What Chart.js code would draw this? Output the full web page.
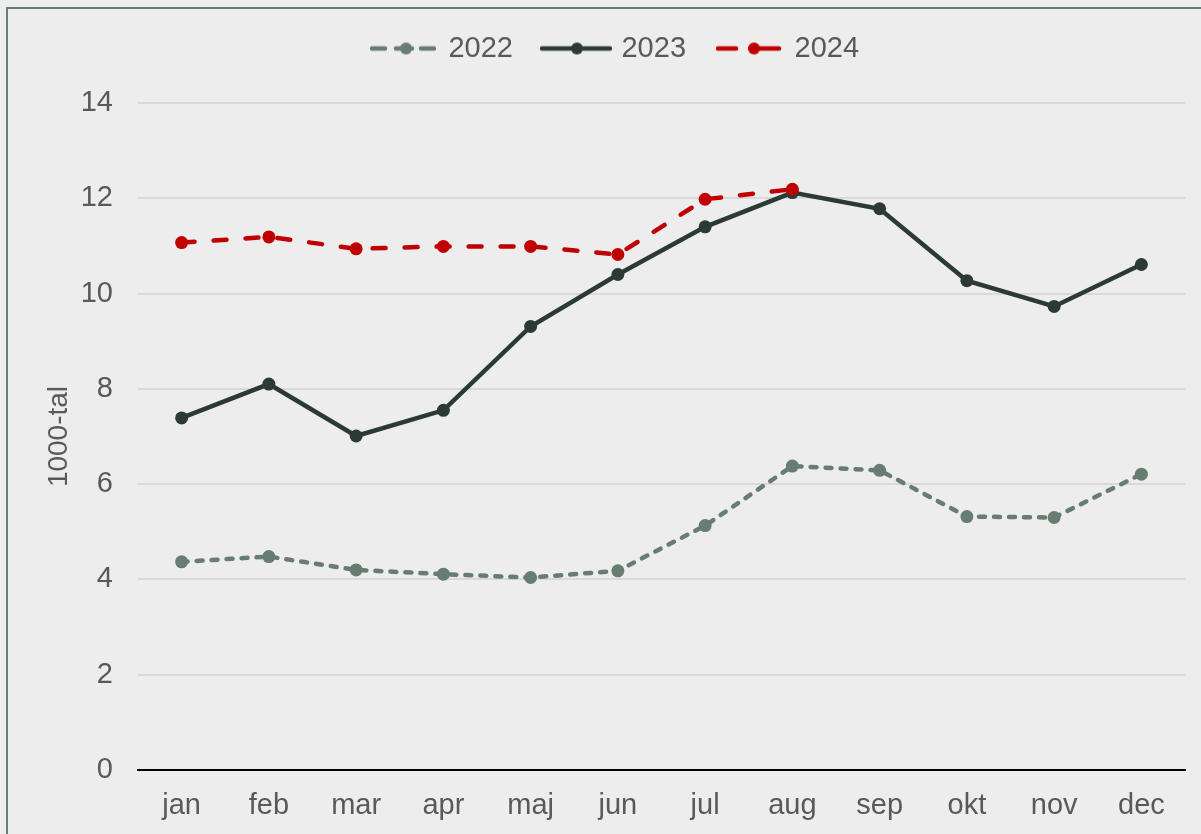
<!DOCTYPE html>
<html>
<head>
<meta charset="utf-8">
<script src="https://cdn.jsdelivr.net/npm/chart.js@4/dist/chart.umd.min.js"></script>
<style>
  html, body { margin: 0; padding: 0; background: #ededed; overflow: hidden; width: 1201px; height: 834px; }
  #frame { position: absolute; left: 6px; top: 7px; width: 1240px; height: 900px; border: 2px solid #687d72; box-sizing: border-box; }
  #wrap { position: absolute; left: 0; top: 0; width: 1231px; height: 834px; }
</style>
</head>
<body>
<div id="frame"></div>
<div id="wrap"><canvas id="chart"></canvas></div>
<script>
// ---- data (unit: 1000-tal) ----
const months = ['jan', 'feb', 'mar', 'apr', 'maj', 'jun', 'jul', 'aug', 'sep', 'okt', 'nov', 'dec'];
const values2022 = [4.37, 4.48, 4.20, 4.11, 4.04, 4.18, 5.13, 6.38, 6.29, 5.32, 5.30, 6.21];
const values2023 = [7.39, 8.10, 7.01, 7.55, 9.31, 10.40, 11.40, 12.12, 11.78, 10.27, 9.73, 10.61];
const values2024 = [11.07, 11.19, 10.94, 10.99, 10.99, 10.82, 11.98, 12.19];
const yTicks = [0, 2, 4, 6, 8, 10, 12, 14];

const FONT = "'Liberation Sans', Arial, sans-serif";
const TEXT = '#595959';
const C2022 = '#687d72';
const C2023 = '#2b3b34';
const C2024 = '#c00000';

// legend icon: line pieces + marker, drawn on a small canvas
function legendIcon(color, width, pieces, markerX) {
  const c = document.createElement('canvas');
  c.width = width;
  c.height = 14;
  const g = c.getContext('2d');
  g.strokeStyle = color;
  g.fillStyle = color;
  g.lineWidth = 4.5;
  g.lineCap = 'round';
  pieces.forEach(([a, b]) => {
    g.beginPath();
    g.moveTo(a + 2, 7);
    g.lineTo(b - 2, 7);
    g.stroke();
  });
  g.beginPath();
  g.arc(markerX, 7, 6, 0, Math.PI * 2);
  g.fill();
  return c;
}

const icons = [
  legendIcon(C2022, 66, [[0, 17], [24, 44], [49, 66]], 36),
  legendIcon(C2023, 72, [[0, 72]], 37),
  legendIcon(C2024, 66, [[0, 22], [32, 65]], 38),
];

// extra space between legend and plot
const legendGap = {
  id: 'legendGap',
  beforeInit(chart) {
    const fit = chart.legend.fit;
    chart.legend.fit = function () {
      fit.bind(chart.legend)();
      this.height += 30;
    };
  },
};

new Chart(document.getElementById('chart'), {
  type: 'line',
  data: {
    labels: months,
    datasets: [
      {
        label: '2022',
        data: values2022,
        borderColor: C2022,
        backgroundColor: C2022,
        borderWidth: 4.5,
        borderDash: [6, 9],
        borderCapStyle: 'round',
        pointRadius: 6.5,
        pointBorderWidth: 0,
        order: 2,
      },
      {
        label: '2023',
        data: values2023,
        borderColor: C2023,
        backgroundColor: C2023,
        borderWidth: 4.5,
        pointRadius: 6.5,
        pointBorderWidth: 0,
        order: 1,
      },
      {
        label: '2024',
        data: values2024,
        borderColor: C2024,
        backgroundColor: C2024,
        borderWidth: 4.5,
        borderDash: [13, 19],
        borderCapStyle: 'round',
        pointRadius: 6.5,
        pointBorderWidth: 0,
        order: 0,
      },
    ],
  },
  options: {
    responsive: true,
    maintainAspectRatio: false,
    animation: false,
    layout: { padding: { top: 2, right: 0, bottom: 0, left: 0 } },
    plugins: {
      legend: {
        position: 'top',
        labels: {
          usePointStyle: true,
          pointStyleWidth: 62,
          padding: 32,
          color: TEXT,
          font: { family: FONT, size: 29 },
          sort: (a, b) => a.datasetIndex - b.datasetIndex,
          generateLabels: (chart) =>
            chart.data.datasets.map((ds, i) => ({
              text: ds.label,
              datasetIndex: i,
              pointStyle: icons[i],
              fillStyle: ds.borderColor,
              strokeStyle: ds.borderColor,
              lineWidth: 0,
              fontColor: TEXT,
              hidden: false,
            })),
        },
      },
      tooltip: { enabled: false },
    },
    scales: {
      x: {
        offset: true,
        afterFit: (scale) => { scale.height = 64; },
        grid: { display: false, drawTicks: false },
        border: { display: true, color: '#000000', width: 2 },
        ticks: { color: TEXT, padding: 19, font: { family: FONT, size: 29 } },
      },
      y: {
        min: 0,
        max: 14,
        afterFit: (scale) => { scale.width = 138; },
        afterBuildTicks: (scale) => { scale.ticks = yTicks.map((v) => ({ value: v })); },
        grid: {
          drawTicks: false,
          lineWidth: 2,
          color: (ctx) => (ctx.tick && ctx.tick.value === 0 ? 'rgba(0,0,0,0)' : '#d9d9d9'),
        },
        border: { display: false },
        ticks: { color: TEXT, padding: 25, font: { family: FONT, size: 29 } },
        title: {
          display: true,
          text: '1000-tal',
          color: TEXT,
          font: { family: FONT, size: 28 },
          padding: { top: 42, bottom: 0 },
        },
      },
      // empty right-hand axis, only reserves the margin right of the plot
      yRight: {
        position: 'right',
        min: 0,
        max: 14,
        afterFit: (scale) => { scale.width = 46; },
        grid: { display: false, drawTicks: false },
        border: { display: false },
        ticks: { display: false },
      },
    },
  },
  plugins: [legendGap],
});
</script>
</body>
</html>
